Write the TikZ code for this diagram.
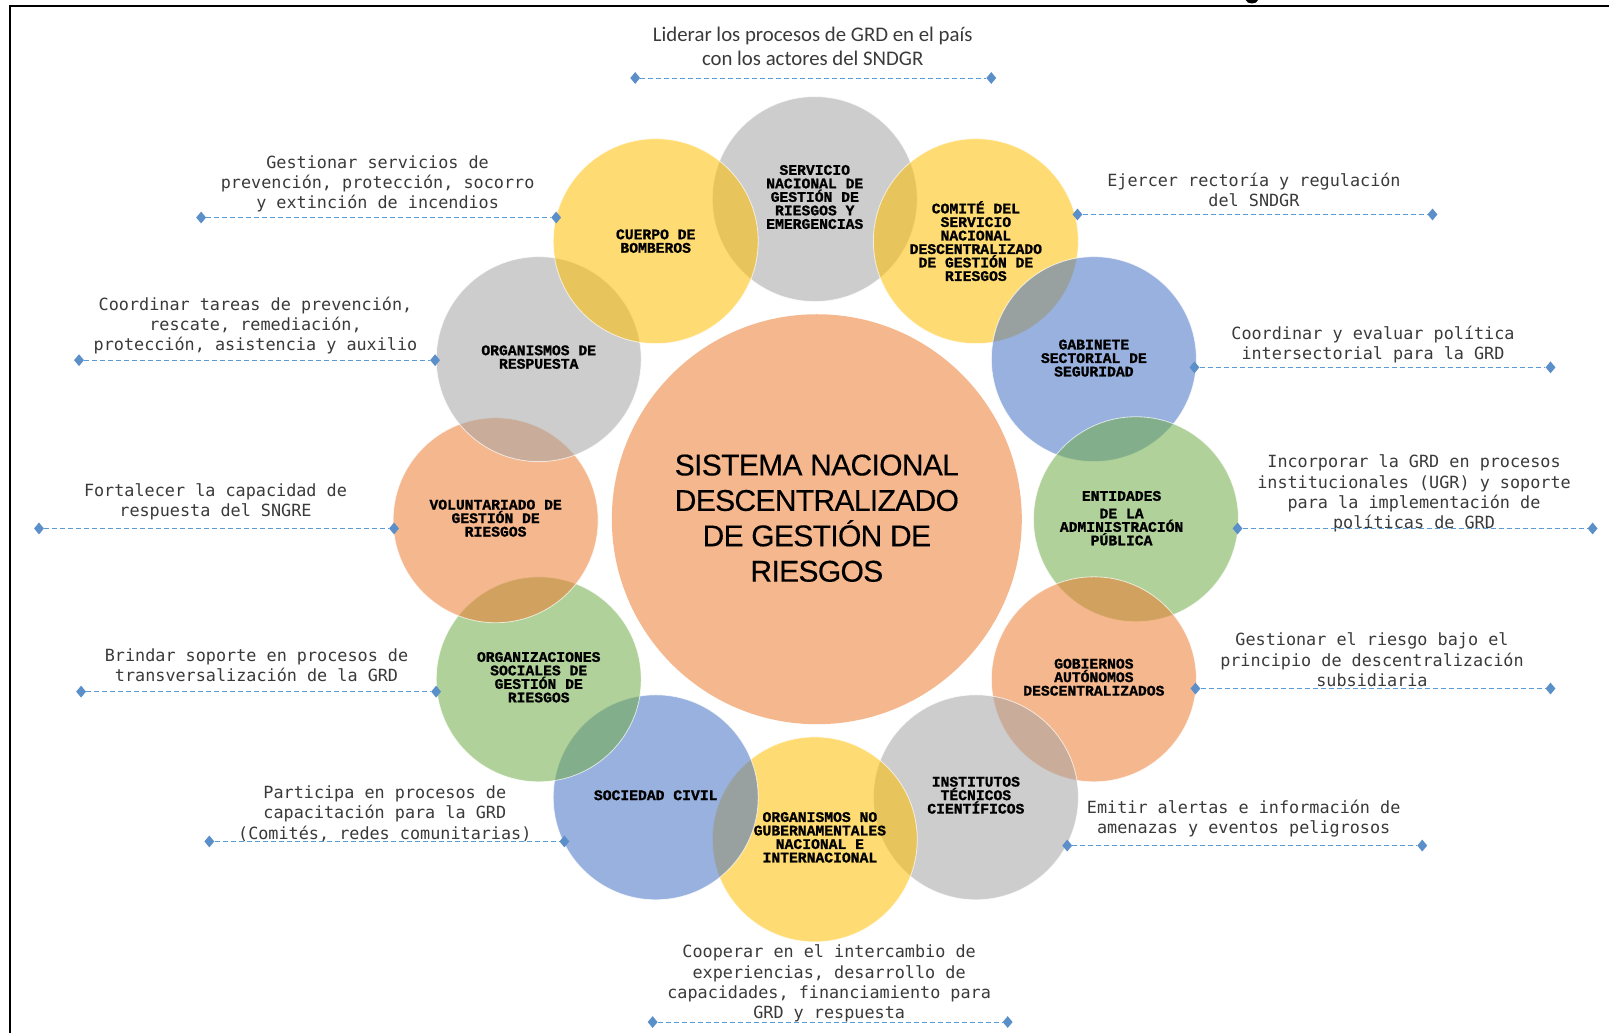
\documentclass[tikz,border=0pt]{standalone}
\usepackage{fontspec}
\usetikzlibrary{shapes.geometric}
\setmainfont{Liberation Sans}
\newfontfamily\descfont{DejaVu Sans Mono}
\newfontfamily\labfont[BoldFont={Liberation Mono Bold},BoldFeatures={FakeBold=1.2}]{Liberation Mono}
\newfontfamily\titlefont[LetterSpace=-2.2,FakeBold=.35]{Liberation Sans}
\newfontfamily\topfont{Carlito}
\definecolor{cOrange}{HTML}{ED7D31}
\definecolor{cBlue}{HTML}{4472C4}
\definecolor{cGray}{HTML}{A5A5A5}
\definecolor{cYellow}{HTML}{FFC000}
\definecolor{cGreen}{HTML}{70AD47}
\definecolor{cLine}{HTML}{5B9BD5}
\definecolor{cDiam}{HTML}{5B8FC9}
\definecolor{cText}{HTML}{3A3A3A}
\tikzset{
  disc/.style={circle,minimum size=205pt,inner sep=0pt,align=center,
    fill opacity=.55,text opacity=1,draw=white,draw opacity=.7,line width=.8pt,
    font=\fontsize{14.7}{13.5}\selectfont\labfont\bfseries,text=black},
  bigdisc/.style={circle,minimum size=410pt,inner sep=0pt,fill=cOrange,fill opacity=.55,draw=none},
  lab/.style={inner sep=0pt,align=center,text=black,
    font=\fontsize{14.7}{13.5}\selectfont\labfont\bfseries},
  title/.style={inner sep=0pt,align=center,text=black,
    font=\fontsize{30}{35.4}\selectfont\titlefont},
  desc/.style={inner sep=0pt,align=center,text=cText,
    font=\fontsize{16.8}{20.2}\selectfont\descfont},
  desctop/.style={inner sep=0pt,align=center,text=cText,
    font=\fontsize{20.8}{23.6}\selectfont\topfont},
  tip/.style={diamond,fill=cDiam,inner sep=0pt,minimum width=10pt,minimum height=12pt},
  dashline/.style={cLine,line width=.9pt,dash pattern=on 5pt off 3pt},
  frame/.style={black,line width=2pt}
}
\begin{document}
\begin{tikzpicture}[x=1.0262pt,y=-1.0262pt]
\useasboundingbox (0,0) rectangle (1568,1006.6);
\fill[white] (0,0) rectangle (1568,1006.6);
% frame
\coordinate (fa) at (9.5,1006.6);
\coordinate (fb) at (9.5,6);
\coordinate (fc) at (1568,6);
\draw[frame] (fa) -- (fb) -- (fc);
\fill[black] (1214,0) -- (1226,0) .. controls (1225,4.5) and (1215,4.5) .. (1214,0) -- cycle;
% big circle
\node[bigdisc] (big) at (796,506) {};
% ring, bottom to top
\node[disc,fill=cGray]   (servicio) at (794,194) {};
\node[disc,fill=cYellow] (comite)   at (951,235) {};
\node[disc,fill=cBlue]   (gabinete) at (1066,350) {};
\node[disc,fill=cGreen]  (entidades) at (1107,506) {};
\node[disc,fill=cOrange] (gobiernos) at (1066,662) {};
\node[disc,fill=cGray]   (institutos) at (951,777) {};
\node[disc,fill=cYellow] (ong)      at (794,818) {};
\node[lab] (tong) at (799,816) {ORGANISMOS NO\\GUBERNAMENTALES\\NACIONAL E\\INTERNACIONAL};
\node[disc,fill=cBlue]   (sociedad) at (639,777) {};
\node[disc,fill=cGreen]  (organiz)  at (525,662) {};
\node[disc,fill=cOrange] (volunt)   at (483,507) {};
\node[disc,fill=cGray]   (respuesta) at (525,350) {};
\node[disc,fill=cYellow] (cuerpo)   at (639,235) {};
% circle labels
\node[title] (ttitle) at (796,505) {SISTEMA NACIONAL\\DESCENTRALIZADO\\DE GESTIÓN DE\\RIESGOS};
\node[lab] (tservicio) at (794,192) {SERVICIO\\NACIONAL DE\\GESTIÓN DE\\RIESGOS Y\\EMERGENCIAS};
\node[lab] (tcomite) at (951,235) {COMITÉ DEL\\SERVICIO\\NACIONAL\\DESCENTRALIZADO\\DE GESTIÓN DE\\RIESGOS};
\node[lab] (tgabinete) at (1066,349) {GABINETE\\SECTORIAL DE\\SEGURIDAD};
\node[lab] (tentidades) at (1093,505) {ENTIDADES\\[4pt]DE LA\\ADMINISTRACIÓN\\PÚBLICA};
\node[lab] (tgobiernos) at (1066,660) {GOBIERNOS\\AUTÓNOMOS\\DESCENTRALIZADOS};
\node[lab] (tinstitutos) at (951,775) {INSTITUTOS\\TÉCNICOS\\CIENTÍFICOS};
\node[lab] (tsociedad) at (639,775) {SOCIEDAD CIVIL};
\node[lab] (torganiz) at (525,660) {ORGANIZACIONES\\SOCIALES DE\\GESTIÓN DE\\RIESGOS};
\node[lab] (tvolunt) at (483,505) {VOLUNTARIADO DE\\GESTIÓN DE\\RIESGOS};
\node[lab] (trespuesta) at (525,348) {ORGANISMOS DE\\RESPUESTA};
\node[lab] (tcuerpo) at (639,235) {CUERPO DE\\BOMBEROS};
% descriptions
\node[desc] (d1x) at (368,179) {Gestionar servicios de\\prevención, protección, socorro\\y extinción de incendios};
\node[desctop] (d1) at (792,45) {Liderar los procesos de GRD en el país\\con los actores del SNDGR};
\node[desc] (d3) at (1222,185) {Ejercer rectoría y regulación\\del SNDGR};
\node[desc] (d4) at (249,317) {Coordinar tareas de prevención,\\rescate, remediación,\\protección, asistencia y auxilio};
\node[desc] (d5) at (1338,336) {Coordinar y evaluar política\\intersectorial para la GRD};
\node[desc] (d6) at (210,489) {Fortalecer la capacidad de\\respuesta del SNGRE};
\node[desc] (d7) at (1378,481) {Incorporar la GRD en procesos\\institucionales (UGR) y soporte\\para la implementación de\\políticas de GRD};
\node[desc] (d8) at (250,648) {Brindar soporte en procesos de\\transversalización de la GRD};
\node[desc] (d9) at (1337,643) {Gestionar el riesgo bajo el\\principio de descentralización\\subsidiaria};
\node[desc] (d10) at (375,793) {Participa en procesos de\\capacitación para la GRD\\(Comités, redes comunitarias)};
\node[desc] (d11) at (1212,798) {Emitir alertas e información de\\amenazas y eventos peligrosos};
\node[desc] (d12) at (808,958.5) {Cooperar en el intercambio de\\experiencias, desarrollo de\\capacidades, financiamiento para\\GRD y respuesta};
% connector ends
\node[tip] (a1) at (619,76) {};   \node[tip] (b1) at (966,76) {};
\node[tip] (a2) at (196,212) {};  \node[tip] (b2) at (542,212) {};
\node[tip] (a3) at (1050,209) {}; \node[tip] (b3) at (1396,209) {};
\node[tip] (a4) at (77,351) {};   \node[tip] (b4) at (424,351) {};
\node[tip] (a5) at (1164,358) {}; \node[tip] (b5) at (1511,358) {};
\node[tip] (a6) at (38,515) {};   \node[tip] (b6) at (384,515) {};
\node[tip] (a7) at (1206,515) {}; \node[tip] (b7) at (1552,515) {};
\node[tip] (a8) at (79,674) {};   \node[tip] (b8) at (425,674) {};
\node[tip] (a9) at (1165,671) {}; \node[tip] (b9) at (1511,671) {};
\node[tip] (a10) at (204,820) {}; \node[tip] (b10) at (550,820) {};
\node[tip] (a11) at (1040,824) {};\node[tip] (b11) at (1386,824) {};
\node[tip] (a12) at (636,996) {}; \node[tip] (b12) at (982,996) {};
\foreach \i in {1,...,12} \draw[dashline] (a\i) -- (b\i);
\end{tikzpicture}
\end{document}
